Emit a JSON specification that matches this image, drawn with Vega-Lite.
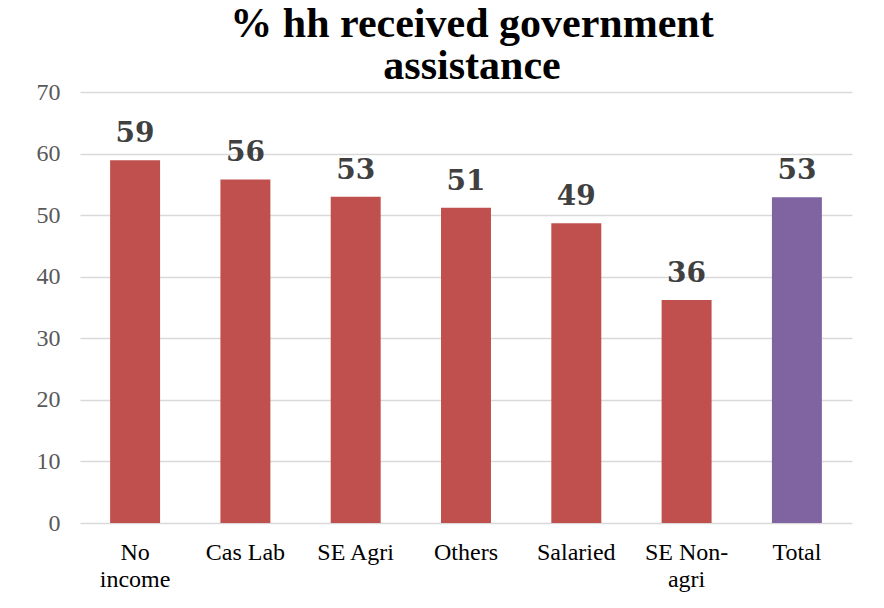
{
  "$schema": "https://vega.github.io/schema/vega-lite/v6.json",
  "autosize": {"type": "none"},
  "width": 772,
  "height": 431,
  "padding": {"left": 80, "top": 92, "right": 32, "bottom": 85},
  "background": "white",
  "title": {
    "text": ["% hh received government", "assistance"],
    "font": "Liberation Serif",
    "fontSize": 42,
    "fontWeight": "bold",
    "color": "#000000",
    "lineHeight": 42,
    "anchor": "middle",
    "frame": "group",
    "offset": -8,
    "dx": 6
  },
  "data": {
    "values": [
      {"category": "No income", "value": 58.9, "group": "occ"},
      {"category": "Cas Lab", "value": 55.8, "group": "occ"},
      {"category": "SE Agri", "value": 53.0, "group": "occ"},
      {"category": "Others", "value": 51.2, "group": "occ"},
      {"category": "Salaried", "value": 48.7, "group": "occ"},
      {"category": "SE Non-agri", "value": 36.2, "group": "occ"},
      {"category": "Total", "value": 52.9, "group": "total"}
    ]
  },
  "encoding": {
    "x": {
      "field": "category",
      "type": "nominal",
      "sort": null,
      "scale": {"paddingInner": 0.547, "paddingOuter": 0.273},
      "axis": {
        "title": null,
        "domain": false,
        "ticks": false,
        "labelAngle": 0,
        "labelFont": "Liberation Serif",
        "labelFontSize": 24,
        "labelColor": "#000000",
        "labelPadding": 17,
        "labelLineHeight": 27,
        "labelBaseline": "top",
        "labelExpr": "datum.value == 'No income' ? ['No', 'income'] : datum.value == 'SE Non-agri' ? ['SE Non-', 'agri'] : datum.value"
      }
    },
    "y": {
      "field": "value",
      "type": "quantitative",
      "scale": {"domain": [0, 70]},
      "axis": {
        "title": null,
        "values": [0, 10, 20, 30, 40, 50, 60, 70],
        "domain": false,
        "ticks": false,
        "labelFont": "Liberation Serif",
        "labelFontSize": 24,
        "labelColor": "#595959",
        "labelPadding": 20,
        "grid": true,
        "gridColor": "#D9D9D9",
        "gridWidth": 1.5
      }
    }
  },
  "layer": [
    {
      "mark": {"type": "bar"},
      "encoding": {
        "color": {
          "field": "group",
          "type": "nominal",
          "scale": {"domain": ["occ", "total"], "range": ["#C0504D", "#8064A2"]},
          "legend": null
        }
      }
    },
    {
      "mark": {
        "type": "text",
        "baseline": "bottom",
        "dy": -12,
        "font": "DejaVu Serif",
        "fontSize": 28,
        "fontWeight": "bold",
        "color": "#404040"
      },
      "encoding": {
        "text": {"field": "value", "type": "quantitative", "format": ".0f"}
      }
    }
  ],
  "config": {
    "view": {"stroke": null}
  }
}
